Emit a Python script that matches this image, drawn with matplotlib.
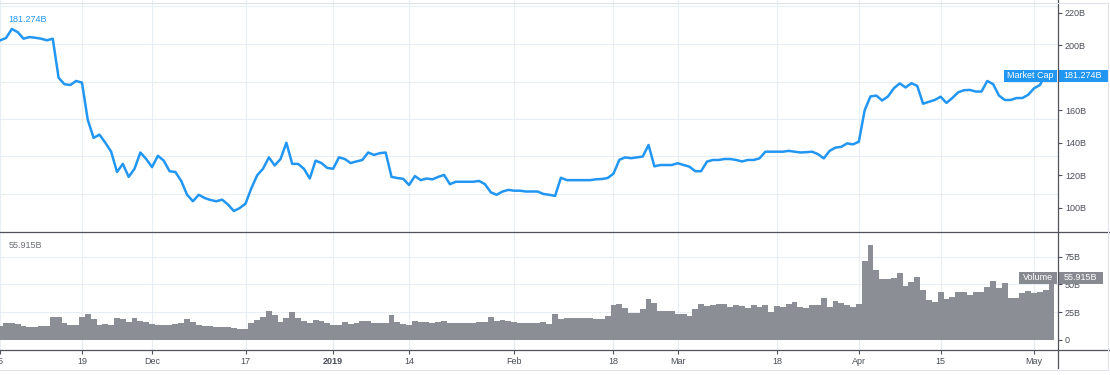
import matplotlib
matplotlib.use("Agg")
import matplotlib.pyplot as plt
import matplotlib.dates as mdates
import matplotlib.transforms as mtransforms
from matplotlib.lines import Line2D
from matplotlib.patches import Rectangle
import pandas as pd

# daily total crypto market cap (B USD), from 2018-11-05
start = "2018-11-05"
market_cap = [
    203, 204.4, 210, 208, 204, 205, 204.6, 204, 203, 204,
    180, 176, 175.5, 178, 177, 154, 143, 145, 140, 134.5,
    122, 127, 119, 124, 134, 130, 125, 132, 129, 122.5,
    122, 116.5, 108, 104, 108, 106, 104.8, 104, 105, 102,
    98, 99.8, 102.5, 112, 120, 124, 131, 126, 130, 140,
    127, 127, 124, 118, 129, 127.5, 124.5, 124, 131, 130,
    127.5, 128.5, 129.4, 134, 132.5, 133.6, 134, 119, 118.3, 117.8,
    114, 119.5, 117, 118, 117.5, 119, 120.2, 114.5, 116, 116,
    116, 116, 116.5, 114.5, 109.5, 108, 110, 111, 110.5, 110.5,
    110, 110, 110, 108.5, 108, 107.3, 118.5, 117, 117, 117,
    117, 117, 117.5, 117.7, 118.3, 121, 129.5, 131, 130.5, 131,
    131.5, 138.6, 125.5, 126.3, 126.3, 126.3, 127.4, 126.3, 125.3, 122.5,
    122.5, 128.4, 129.4, 129.4, 130, 130, 129.4, 128.5, 129.4, 129.4,
    130.4, 134.5, 134.5, 134.5, 134.5, 135, 134.5, 134, 134.2, 134.5,
    133, 130.4, 135, 137, 137.5, 139.6, 139, 140.6, 160, 168.5,
    169, 166, 168.5, 173.5, 176.5, 174, 176.6, 175, 164, 165.2,
    166.3, 168.3, 164.5, 167.5, 171, 172.3, 172.5, 171.5, 171.5, 178,
    176, 169, 166.3, 166.3, 167.5, 167.5, 169.5, 173.5, 175.5, 182, 181.274,
]

# daily volume (B USD)
volume = [
    12.3, 14.8, 14.8, 13.9, 12.3, 11.1, 11.7, 12.3, 12.7, 20.8,
    20.2, 14.8, 13, 13, 20.2, 22.9, 18.4, 13.3, 13.9, 13.3,
    19.3, 18.4, 16.3, 19.3, 17.2, 15.7, 14.2, 13.3, 13, 13,
    13.9, 14.8, 18.4, 16, 13.3, 12.7, 12.3, 11.1, 11.1, 11.1,
    10.2, 9.3, 9.6, 15.4, 17.8, 20.2, 26.2, 22.3, 16.3, 19.6,
    25, 19.9, 17.2, 15.4, 17.8, 17.2, 14.8, 13.3, 13, 16,
    14.2, 15.4, 16.9, 16.6, 15.4, 15.4, 15.4, 22, 16.3, 13.9,
    13.3, 16.9, 16, 16, 14.8, 16.3, 16.9, 14.8, 15.4, 15.4,
    15.4, 15.4, 16, 16, 20.8, 17.2, 17.8, 16.9, 16.3, 14.8,
    14.8, 14.8, 15.4, 16, 14.2, 23.2, 19, 19.6, 19.6, 19.6,
    19.6, 19.3, 18.4, 18.4, 21.4, 31.3, 31.9, 28.3, 23.8, 23.8,
    27.7, 36.7, 32.8, 25.9, 26.2, 26.2, 23.2, 23.2, 21.4, 27.4,
    32.2, 30.4, 31.3, 31.9, 32.2, 29.8, 31, 30.1, 28.9, 31.6,
    29.2, 31.6, 25.3, 30.4, 29.2, 32.2, 34.3, 29.2, 28.6, 31.3,
    31.6, 37.3, 29.8, 34.9, 33.4, 31.3, 29.8, 32.2, 71.1, 85.5,
    63, 54.8, 54.8, 55.4, 59.9, 48.5, 51.8, 56.9, 44.9, 35.8,
    33.7, 42.8, 37, 38.3, 43.4, 42.8, 40.4, 43.4, 43.4, 47.3,
    53, 47, 51.5, 38, 37.3, 42.5, 44, 41.9, 43.4, 45, 55.915,
]

tick_dates = ["2018-11-05", "2018-11-19", "2018-12-01", "2018-12-17", "2019-01-01",
              "2019-01-14", "2019-02-01", "2019-02-18", "2019-03-01", "2019-03-18",
              "2019-04-01", "2019-04-15", "2019-05-01"]
tick_labels = ["5", "19", "Dec", "17", "2019", "14", "Feb", "18", "Mar", "18",
               "Apr", "15", "May"]
price_ticks = [100, 120, 140, 160, 180, 200, 220]
# 180B sits under the "Market Cap" tag in the screenshot
price_tick_labels = ["100B", "120B", "140B", "160B", "", "200B", "220B"]
volume_ticks = [0, 25, 50, 75]
volume_tick_labels = ["0", "25B", "50B", "75B"]
# horizontal grid of the price pane sits off the labels in the screenshot
cap_grid = [224.1, 200.7, 177.4, 154.6, 132.0, 108.6]

BLUE = "#2196f3"
GRAY = "#8b8e95"
GRID = "#e9eef4"
AXIS = "#50535e"
TEXT = "#4a4d57"
FS = 6.5

plt.rcParams['font.family'] = ['Liberation Sans', 'DejaVu Sans']

W, H = 1110, 375
fig = plt.figure(figsize=(W / 100, H / 100), dpi=100)
right_px, div_px, base_px = 1058, 232, 349.7

ax_top = fig.add_axes([0, (H - div_px) / H, right_px / W, div_px / H])
ax_vol = fig.add_axes([0, (H - base_px) / H, right_px / W, (base_px - div_px) / H],
                      sharex=ax_top)

days = pd.date_range(start, periods=len(market_cap), freq="D")
ticks = pd.to_datetime(tick_dates)

ax_top.plot(days, market_cap, color=BLUE, lw=1.8, solid_joinstyle="round", zorder=3)
ax_vol.bar(days, volume, width=1.0, color=GRAY, linewidth=0, zorder=3)

x0 = mdates.date2num(pd.Timestamp(start))
ax_top.set_xlim(x0 - 0.03, x0 + 181.1)
ax_top.set_ylim(85.1, 227.8)
ax_vol.set_ylim(-9, 97.3)

for ax in (ax_top, ax_vol):
    for t in ticks:
        ax.axvline(t, color=GRID, lw=0.8, zorder=0)
    for s in ax.spines.values():
        s.set_visible(False)
    ax.yaxis.tick_right()
    ax.tick_params(axis="y", direction="out", length=3, width=0.8, color=AXIS,
                   labelcolor=TEXT, labelsize=FS, pad=2)
for g in cap_grid:
    ax_top.axhline(g, color=GRID, lw=0.8, zorder=0)
for v in volume_ticks[1:]:
    ax_vol.axhline(v, color=GRID, lw=0.8, zorder=0)

ax_top.set_yticks(price_ticks)
ax_top.set_yticklabels(price_tick_labels)
ax_top.tick_params(axis="x", bottom=False, labelbottom=False)

ax_vol.set_yticks(volume_ticks)
ax_vol.set_yticklabels(volume_tick_labels)
ax_vol.set_xticks(ticks)
ax_vol.set_xticklabels(tick_labels)
ax_vol.tick_params(axis="x", direction="out", length=3, width=0.8, color=AXIS,
                   labelcolor=TEXT, labelsize=FS, pad=2)
for lbl in ax_vol.get_xticklabels():
    if lbl.get_text() == "2019":
        lbl.set_fontweight("bold")

# frame lines
for y in (div_px, base_px):
    fig.add_artist(Line2D([0, 1], [(H - y) / H] * 2, color=AXIS, lw=0.9))
fig.add_artist(Line2D([right_px / W] * 2, [(H - 368) / H, 1], color=AXIS, lw=0.9))
fig.add_artist(Line2D([0, 1108 / W], [(H - 3) / H] * 2, color="#e0e3eb", lw=0.8))
fig.add_artist(Line2D([0, 1108 / W], [(H - 370) / H] * 2, color="#e0e3eb", lw=0.8))
fig.add_artist(Line2D([1108 / W] * 2, [(H - 370) / H, (H - 3) / H], color="#e0e3eb", lw=0.8))

# last value legends
last_cap = market_cap[-1]
last_vol = volume[-1]
ax_top.text(8 / right_px, 1 - 19 / div_px, f"{last_cap:.3f}B", transform=ax_top.transAxes,
            color=BLUE, fontsize=FS, va="center")
ax_vol.text(9 / right_px, 1 - 14 / (base_px - div_px), f"{last_vol:.3f}B",
            transform=ax_vol.transAxes, color="#6a6d75", fontsize=FS, va="center")

def price_label(ax, value, half, name, color, x_name, x_val_end):
    tr = mtransforms.blended_transform_factory(fig.transFigure, ax.transData)
    fig.add_artist(Rectangle((x_name / W, value - half), (right_px - 1 - x_name) / W, 2 * half,
                             transform=tr, color=color, lw=0, clip_on=False))
    fig.add_artist(Rectangle((right_px / W, value - half), (x_val_end - right_px) / W, 2 * half,
                             transform=tr, color=color, lw=0, clip_on=False))
    fig.text((x_name + right_px - 1) / 2 / W, value, name, transform=tr, color="white",
             fontsize=FS, ha="center", va="center")
    fig.text((right_px + x_val_end) / 2 / W, value, f"{value:.3f}B", transform=tr,
             color="white", fontsize=FS, ha="center", va="center")

price_label(ax_top, last_cap, 6 / 1.6256, "Market Cap", BLUE, 1004, 1108)
price_label(ax_vol, last_vol, 6 / 1.107, "Volume", "#878a91", 1019, 1103)

fig.savefig("out.png", dpi=100)
